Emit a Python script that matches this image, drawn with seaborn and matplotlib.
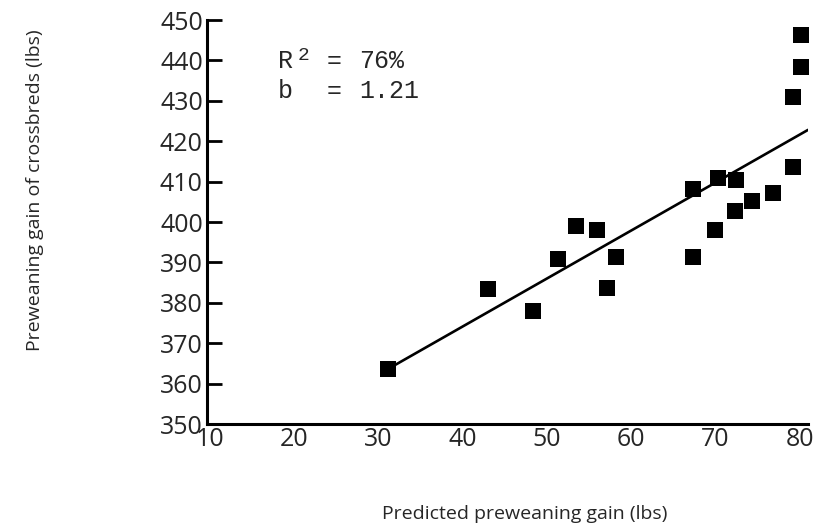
import matplotlib
matplotlib.use("Agg")
import matplotlib.pyplot as plt
import seaborn as sns
import pandas as pd

# Data
predicted_gain = [31.2, 43.0, 48.4, 51.4, 53.5, 56.0, 57.2, 58.2, 67.3, 67.4,
                  70.0, 70.3, 72.3, 72.4, 74.3, 76.9, 79.2, 79.2, 80.2, 80.2]
crossbred_gain = [363.6, 383.3, 378.0, 390.9, 399.1, 397.9, 383.7, 391.4, 391.4, 408.1,
                  398.1, 410.8, 402.6, 410.5, 405.1, 407.3, 413.5, 430.9, 438.3, 446.3]
fit_x = [31.5, 81.0]
fit_y = [364.0, 422.8]
x_ticks = [10, 20, 30, 40, 50, 60, 70, 80]
y_ticks = [350, 360, 370, 380, 390, 400, 410, 420, 430, 440, 450]
r2_text = "76%"
b_text = "1.21"

df = pd.DataFrame({"pred": predicted_gain, "cross": crossbred_gain})
fit_df = pd.DataFrame({"x": fit_x, "y": fit_y})

sns.set_theme(style="white")
plt.rcParams["font.family"] = ["Open Sans", "DejaVu Sans"]

fig = plt.figure(figsize=(8.21, 5.27), dpi=100)
ax = fig.add_axes([207 / 821, 1 - 424 / 527, 601 / 821, 404 / 527])

sns.lineplot(data=fit_df, x="x", y="y", ax=ax, color="black", linewidth=1.9)
sns.scatterplot(data=df, x="pred", y="cross", ax=ax, marker="s", s=125,
                color="black", edgecolor="black", linewidth=0)

ax.set_xlim(9.7, 81)
ax.set_ylim(350, 450)
ax.set_xticks(x_ticks)
ax.set_yticks(y_ticks)
ax.tick_params(axis="y", direction="in", length=11, width=2, pad=3,
               labelsize=18, color="black", left=True)
ax.tick_params(axis="x", length=0, pad=2, labelsize=18)

for side in ["top", "right"]:
    ax.spines[side].set_visible(False)
for side in ["left", "bottom"]:
    ax.spines[side].set_color("black")
    ax.spines[side].set_linewidth(2.2)

ax.set_xlabel("Predicted preweaning gain (lbs)", fontsize=14)
ax.set_ylabel("Preweaning gain of crossbreds (lbs)", fontsize=14)
ax.xaxis.set_label_coords(0.529, -0.20)
ax.yaxis.set_label_coords(-0.272, 0.579)

mono = ["Liberation Mono", "DejaVu Sans Mono"]
ax.text(18.1, 438.1, "R", family=mono, fontsize=18, va="baseline", ha="left")
ax.text(20.4, 440.1, "2", family=mono, fontsize=14, va="baseline", ha="left")
ax.text(23.9, 438.1, "=", family=mono, fontsize=18, va="baseline", ha="left")
ax.text(27.8, 438.1, r2_text, family=mono, fontsize=18, va="baseline", ha="left")
ax.text(18.1, 430.6, "b", family=mono, fontsize=18, va="baseline", ha="left")
ax.text(23.9, 430.6, "=", family=mono, fontsize=18, va="baseline", ha="left")
ax.text(27.8, 430.6, b_text, family=mono, fontsize=18, va="baseline", ha="left")

fig.savefig("out.png", dpi=100)
